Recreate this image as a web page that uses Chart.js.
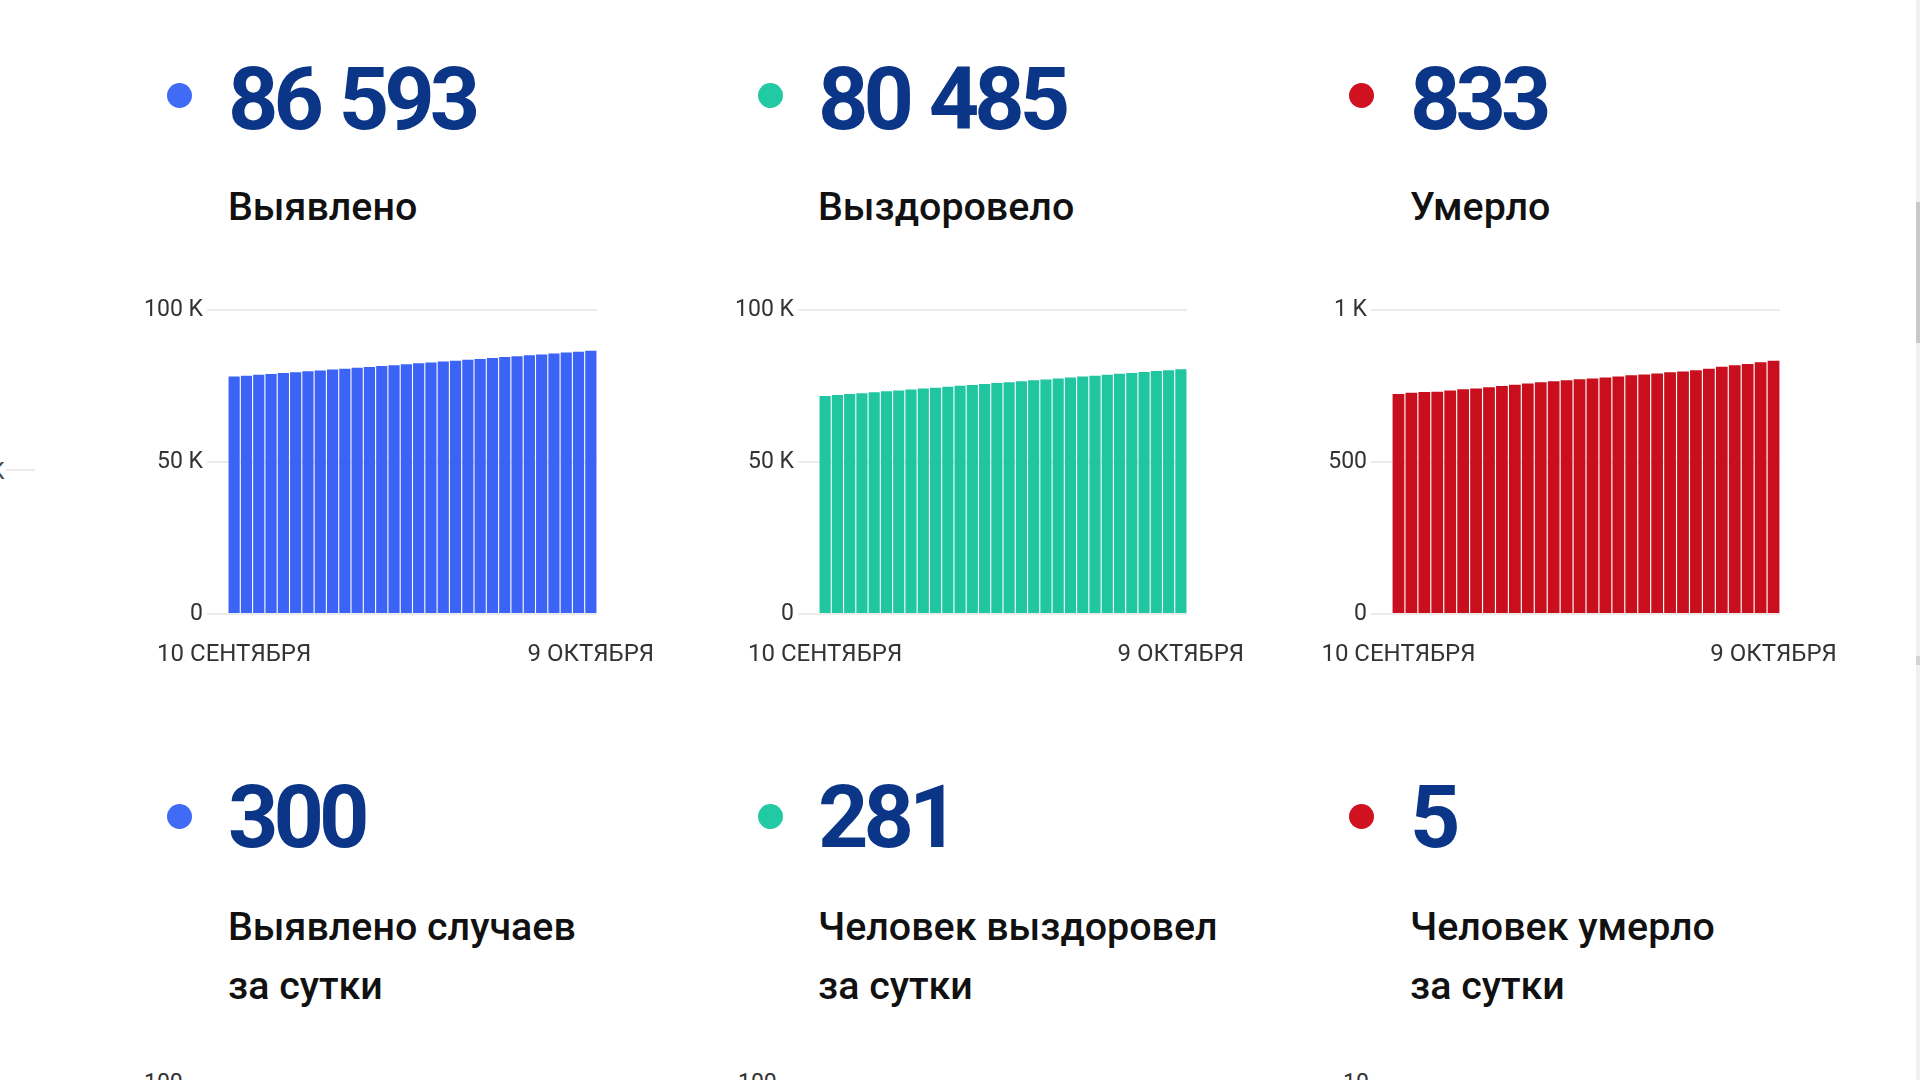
<!DOCTYPE html>
<html lang="ru">
<head>
<meta charset="utf-8">
<title>COVID-19 статистика</title>
<script src="https://cdn.jsdelivr.net/npm/chart.js@4"></script>
<style>
  html, body { margin: 0; padding: 0; background: #ffffff; }
  body { width: 1920px; height: 1080px; position: relative; overflow: hidden; font-family: Roboto, "Noto Sans", sans-serif; }
  .dot { position: absolute; width: 25px; height: 25px; border-radius: 50%; }
  .num { position: absolute; font-weight: 700; font-size: 88px; line-height: 88px; color: #0b3587; letter-spacing: -5px; word-spacing: 3px; white-space: nowrap; }
  .lbl { position: absolute; font-weight: 500; font-size: 39.4px; line-height: 58.5px; color: #111111; white-space: nowrap; }
  canvas { position: absolute; }
  .clip { position: absolute; font-size: 23px; line-height: 23px; color: #333; }
  .track { position: absolute; left: 1916px; top: 0; width: 4px; height: 1080px; background: #f0f0f0; }
  .thumb { position: absolute; left: 1916px; top: 202px; width: 4px; height: 141px; background: #c9c9c9; }
  .mark { position: absolute; left: 1916px; top: 656px; width: 4px; height: 9px; background: #d4d4d4; }
</style>
</head>
<body>
<script>
// ---- data ----
const dates = ["10 СЕНТЯБРЯ","11 СЕНТЯБРЯ","12 СЕНТЯБРЯ","13 СЕНТЯБРЯ","14 СЕНТЯБРЯ","15 СЕНТЯБРЯ","16 СЕНТЯБРЯ","17 СЕНТЯБРЯ","18 СЕНТЯБРЯ","19 СЕНТЯБРЯ","20 СЕНТЯБРЯ","21 СЕНТЯБРЯ","22 СЕНТЯБРЯ","23 СЕНТЯБРЯ","24 СЕНТЯБРЯ","25 СЕНТЯБРЯ","26 СЕНТЯБРЯ","27 СЕНТЯБРЯ","28 СЕНТЯБРЯ","29 СЕНТЯБРЯ","30 СЕНТЯБРЯ","1 ОКТЯБРЯ","2 ОКТЯБРЯ","3 ОКТЯБРЯ","4 ОКТЯБРЯ","5 ОКТЯБРЯ","6 ОКТЯБРЯ","7 ОКТЯБРЯ","8 ОКТЯБРЯ","9 ОКТЯБРЯ"];
const detected = [78098,78385,78673,78962,79250,79540,79830,80120,80410,80702,80991,81282,81573,81863,82157,82448,82742,83035,83327,83621,83915,84208,84504,84803,85098,85395,85688,85990,86293,86593];
const recovered = [71727,72029,72331,72633,72935,73238,73541,73843,74146,74449,74752,75055,75358,75660,75965,76268,76570,76874,77178,77480,77786,78090,78392,78697,79001,79305,79610,79911,80204,80485];
const died = [724,728,730,731,735,739,742,746,750,754,758,762,766,769,772,775,778,781,785,788,791,795,798,802,807,813,818,822,828,833];
const totalNumbers = ["86 593","80 485","833"];
const totalTitles = ["Выявлено","Выздоровело","Умерло"];
const dailyNumbers = ["300","281","5"];
const dailyTitles = [["Выявлено случаев","за сутки"],["Человек выздоровел","за сутки"],["Человек умерло","за сутки"]];
const yTickLabelsK = {0:"0", 50000:"50 K", 100000:"100 K"};
const yTickLabelsSmall = {0:"0", 500:"500", 1000:"1 K"};

const colors = { blue: "#3b63f6", green: "#20c6a0", red: "#c90e1e" };
const dotColors = ["#3f6bf7", "#22caa3", "#d0111f"];

// ---- text blocks ----
const colTextX = [228, 818, 1410];
const colDotX = [167, 758, 1349];
function add(html, cls, style) {
  const d = document.createElement('div');
  d.className = cls; d.innerHTML = html; Object.assign(d.style, style);
  document.body.appendChild(d); return d;
}
for (let i = 0; i < 3; i++) {
  add('', 'dot', { left: colDotX[i] + 'px', top: '83px', background: dotColors[i] });
  add(totalNumbers[i], 'num', { left: colTextX[i] + 'px', top: '55px' });
  add(totalTitles[i], 'lbl', { left: colTextX[i] + 'px', top: '178px' });
  add('', 'dot', { left: colDotX[i] + 'px', top: '804px', background: dotColors[i] });
  add(dailyNumbers[i], 'num', { left: colTextX[i] + 'px', top: '773px' });
  add(dailyTitles[i].join('<br>'), 'lbl', { left: colTextX[i] + 'px', top: '898px' });
}
// partial elements at the page edges (neighbouring slide / next row)
add('K', 'clip', { left: '-10px', top: '460px', color: '#444' });
add('', 'clip', { left: '6px', top: '469px', width: '29px', height: '2px', background: '#ececec' });
add('100', 'clip', { left: '144px', top: '1071px' });
add('100', 'clip', { left: '738px', top: '1071px' });
add('10', 'clip', { left: '1343px', top: '1071px' });
add('', 'track', {});
add('', 'thumb', {});
add('', 'mark', {});

// ---- charts ----
Chart.defaults.font.family = 'Roboto';
function makeChart(left, width, yWidth, values, color, yMax, yStep, yLabels) {
  const c = document.createElement('canvas');
  c.width = width; c.height = 400;
  c.style.left = left + 'px'; c.style.top = '290px';
  document.body.appendChild(c);
  return new Chart(c, {
    type: 'bar',
    data: { labels: dates, datasets: [{ data: values, backgroundColor: color, borderWidth: 0, barPercentage: 0.91, categoryPercentage: 1.0 }] },
    options: {
      responsive: false, animation: false,
      layout: { padding: { top: 20, right: 90, bottom: 0, left: 0 } },
      plugins: { legend: { display: false }, tooltip: { enabled: false } },
      scales: {
        x: {
          grid: { display: false, drawTicks: false }, border: { display: false },
          ticks: {
            autoSkip: false, maxRotation: 0, minRotation: 0, padding: 27,
            color: '#333333', font: { size: 24 },
            callback: (v, i) => (i === 0 || i === dates.length - 1) ? dates[i] : ''
          },
          afterFit: (a) => { a.height = 76; }
        },
        y: {
          min: 0, max: yMax,
          grid: { color: '#ececec', lineWidth: 2, drawTicks: true, tickLength: 21, tickColor: '#ececec' },
          border: { display: false },
          ticks: { stepSize: yStep, padding: 4, color: '#333333', font: { size: 23 }, callback: (v) => yLabels[v] },
          afterFit: (a) => { a.width = yWidth; }
        }
      }
    }
  });
}
makeChart(120, 567, 108, detected, colors.blue, 100000, 50000, yTickLabelsK);
makeChart(710, 567, 109, recovered, colors.green, 100000, 50000, yTickLabelsK);
makeChart(1290, 580, 102, died, colors.red, 1000, 500, yTickLabelsSmall);
</script>
</body>
</html>
